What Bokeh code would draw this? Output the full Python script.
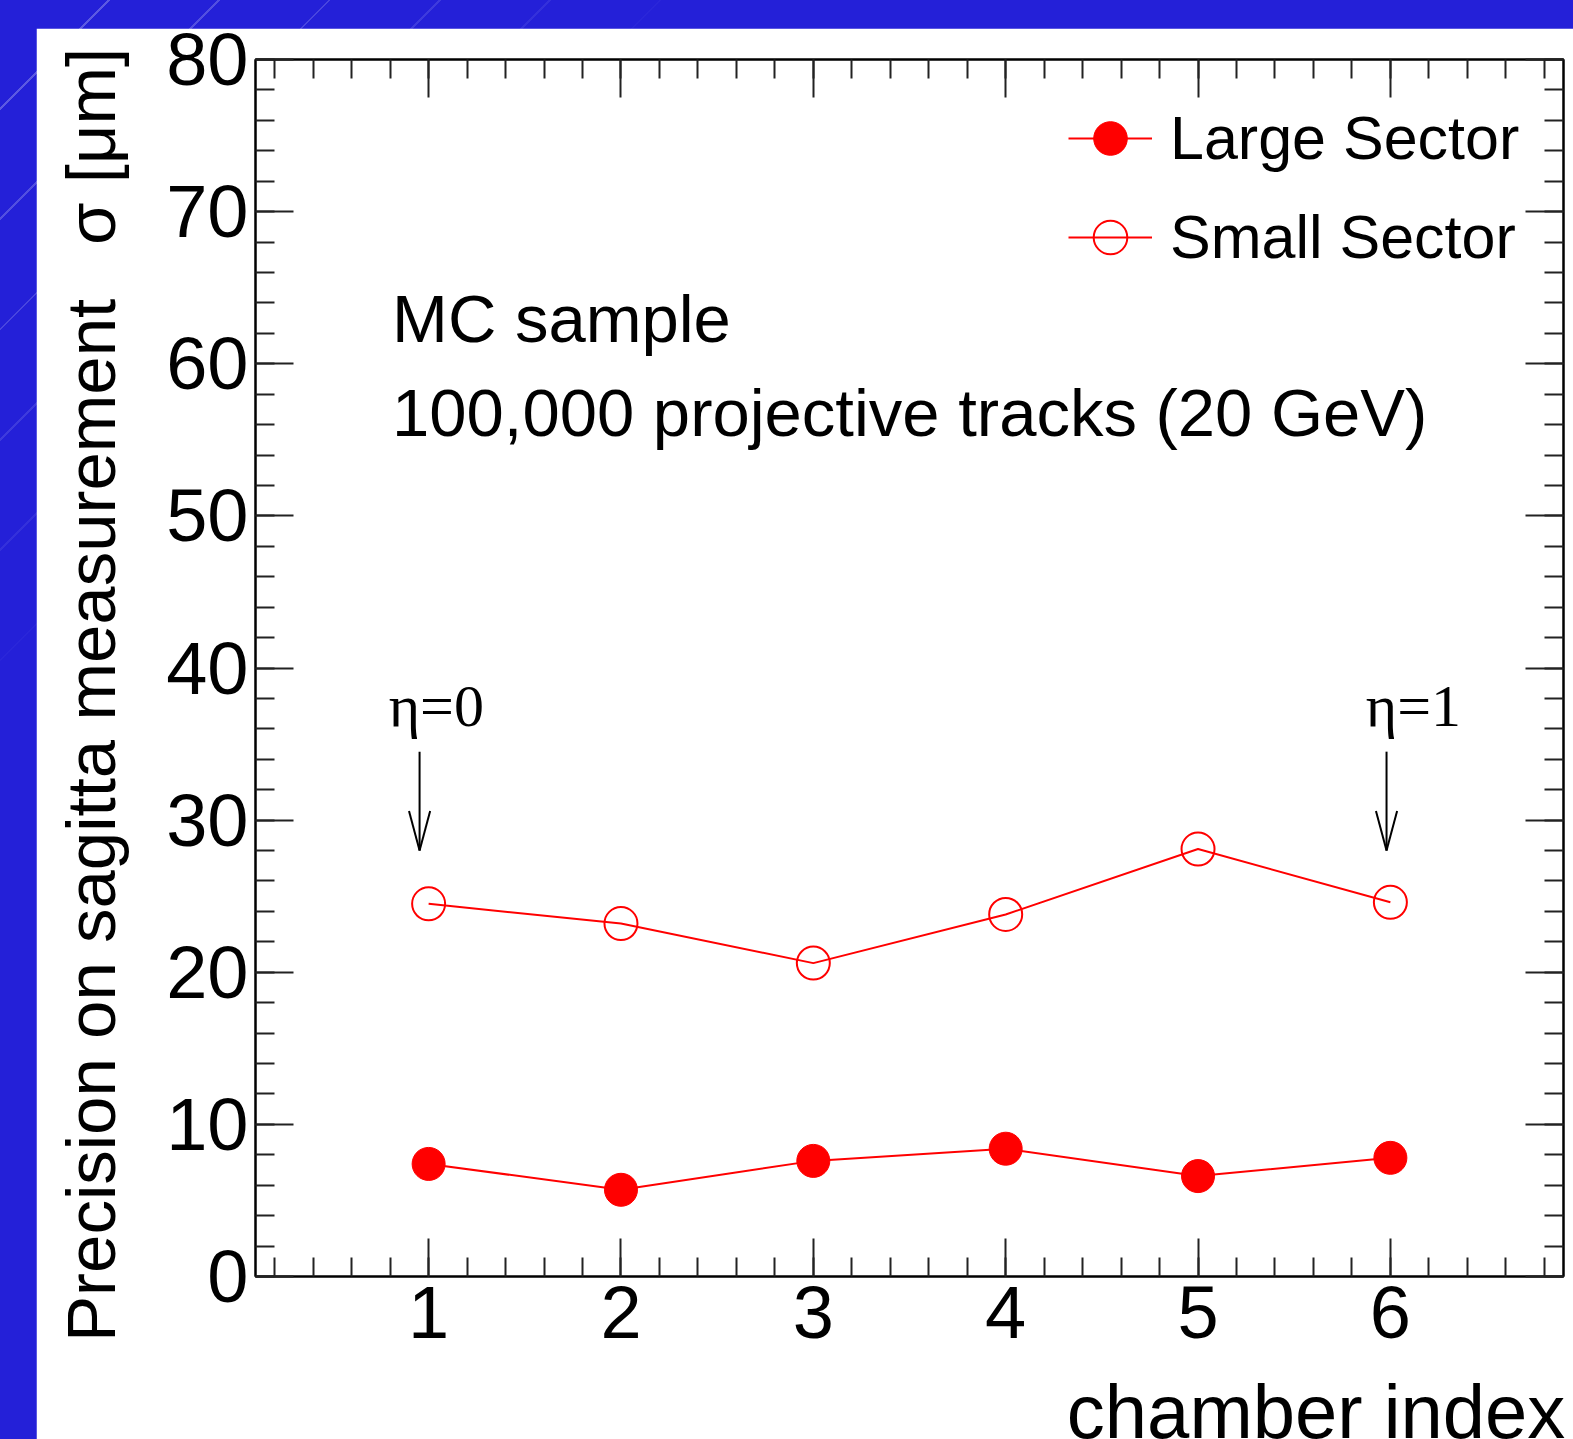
import numpy as np
from bokeh.plotting import figure
from bokeh.models import (Range1d, LinearAxis, FixedTicker, Label, Legend, LegendItem,
                          ColumnDataSource)
from bokeh.layouts import column
from bokeh.embed import file_html
from bokeh.resources import INLINE

# ---------------- data ----------------
chamber = [1, 2, 3, 4, 5, 6]
large_sector = [7.4, 5.7, 7.6, 8.4, 6.6, 7.8]
small_sector = [24.5, 23.2, 20.6, 23.8, 28.1, 24.6]

x_major_ticks = [1, 2, 3, 4, 5, 6]
y_major_ticks = [0, 10, 20, 30, 40, 50, 60, 70, 80]

eta_labels = ["η=0", "η=1"]
eta_label_x = [1.04, 6.12]
eta_label_y = [37.5, 37.5]
eta_arrow_x = [0.953, 5.98]
eta_arrow_top = [34.5, 34.5]
eta_arrow_tip = [28.0, 28.0]

info_lines = ["MC sample", "100,000 projective tracks (20 GeV)"]
info_x = [0.81, 0.81]
info_y = [63.0, 56.8]

x_title = "chamber index"
y_title = "Precision on sagitta measurement\u00a0\u2002σ [μm]\u2002\u00a0"

RED = "#ff0000"
SANS = "Liberation Sans, Arial, sans-serif"
SERIF = "'Liberation Serif', 'Times New Roman', serif"

EXTRA = 110  # extra canvas below the window edge (clipped, like the reference)
FIG_H = 1411 + EXTRA

p = figure(width=1537, height=FIG_H,
           x_range=Range1d(0.1, 6.9), y_range=Range1d(0, 80),
           output_backend="svg", toolbar_location=None,
           min_border_left=219, min_border_top=31, min_border_right=10,
           min_border_bottom=163 + EXTRA,
           background_fill_color="white", border_fill_color="white",
           outline_line_color="black", outline_line_width=2)
p.xgrid.visible = False
p.ygrid.visible = False

def style_axis(ax, ticks, minor, labels=True):
    ax.ticker = FixedTicker(ticks=ticks, minor_ticks=minor)
    ax.axis_line_color = "black"
    ax.axis_line_width = 2
    ax.major_tick_line_color = "#222222"
    ax.major_tick_line_width = 2
    ax.minor_tick_line_color = "#222222"
    ax.minor_tick_line_width = 2
    ax.major_tick_in = 38
    ax.major_tick_out = 0
    ax.minor_tick_in = 19
    ax.minor_tick_out = 0
    ax.major_label_text_font = SANS
    if labels:
        ax.major_label_text_color = "black"
        ax.major_label_text_font_size = "74px"
    else:
        ax.major_label_text_color = None
        ax.major_label_text_font_size = "1px"
        ax.major_label_standoff = 0
        ax.axis_label_standoff = 0

x_minor = [round(0.2 * i, 1) for i in range(1, 35)]
y_minor = list(range(0, 81, 2))

xa = p.xaxis[0]
ya = p.yaxis[0]
style_axis(xa, x_major_ticks, x_minor)
style_axis(ya, y_major_ticks, y_minor)
xa.major_label_standoff = 10
ya.major_label_standoff = 7

ya.axis_label = y_title
ya.axis_label_text_font = SANS
ya.axis_label_text_font_size = "69px"
ya.axis_label_text_font_style = "normal"
ya.axis_label_text_color = "black"
ya.axis_label_standoff = 33

# leading wide spaces push the centred title to the right end of the axis
xa.axis_label = "\u2003" * 10 + "\u2002\u2009" + x_title
xa.axis_label_text_font = SANS
xa.axis_label_text_font_size = "76px"
xa.axis_label_text_font_style = "normal"
xa.axis_label_text_color = "black"
xa.axis_label_standoff = 28

top = LinearAxis()
style_axis(top, x_major_ticks, x_minor, labels=False)
p.add_layout(top, "above")
right = LinearAxis()
style_axis(right, y_major_ticks, y_minor, labels=False)
p.add_layout(right, "right")

src_l = ColumnDataSource(dict(x=chamber, y=large_sector))
src_s = ColumnDataSource(dict(x=chamber, y=small_sector))

l1 = p.line("x", "y", source=src_l, line_color=RED, line_width=2)
s1 = p.scatter("x", "y", source=src_l, marker="circle", size=33, fill_color=RED, line_color=RED)
l2 = p.line("x", "y", source=src_s, line_color=RED, line_width=2)
s2 = p.scatter("x", "y", source=src_s, marker="circle", size=33, fill_color=None,
               line_color=RED, line_width=2)

legend = Legend(items=[LegendItem(label="Large Sector", renderers=[l1, s1]),
                       LegendItem(label="Small Sector", renderers=[l2, s2])],
                location=(813, 997), glyph_width=84, glyph_height=84, spacing=15,
                padding=0, margin=0, label_standoff=18,
                label_text_font=SANS, label_text_font_size="61px", label_text_color="black",
                border_line_alpha=0, background_fill_alpha=0)
p.add_layout(legend)

# eta arrows
for xarr, yt, yb in zip(eta_arrow_x, eta_arrow_top, eta_arrow_tip):
    head_len = 2.6
    head_dx = 0.055
    p.segment(x0=[xarr, xarr - head_dx, xarr + head_dx], y0=[yt, yb + head_len, yb + head_len],
              x1=[xarr, xarr, xarr], y1=[yb, yb, yb], line_color="black", line_width=2)

for t, xl, yl in zip(eta_labels, eta_label_x, eta_label_y):
    p.add_layout(Label(x=xl, y=yl, text=t, text_align="center", text_baseline="alphabetic",
                       text_font=SERIF, text_font_size="60px", text_color="black"))

for t, xl, yl in zip(info_lines, info_x, info_y):
    p.add_layout(Label(x=xl, y=yl, text=t, text_align="left", text_baseline="alphabetic",
                       text_font=SANS, text_font_size="67px", text_color="black"))

p.margin = (28, 0, 0, 36)
p.styles = {"flex-shrink": "0", "min-height": f"{FIG_H}px", "height": f"{FIG_H}px"}
page = column(p, width=1573, height=1439,
              styles={
                  "background-color": "#2420d8",
                  "background-image": (
                      "linear-gradient(135deg, rgba(36,32,216,0) 0%, rgba(36,32,216,1) 24%), "
                      "repeating-linear-gradient(135deg, rgba(255,255,255,0) 0px, "
                      "rgba(255,255,255,0) 76px, rgba(255,255,255,0.3) 76px, "
                      "rgba(255,255,255,0.3) 78px)"),
                  "overflow": "hidden",
              })

open("out.html", "w").write(file_html(page, INLINE))
